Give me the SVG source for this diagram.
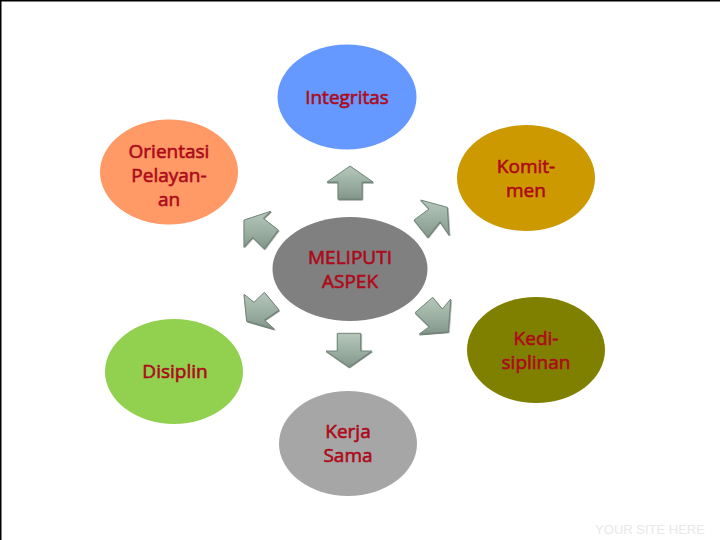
<svg xmlns="http://www.w3.org/2000/svg" width="720" height="540" viewBox="0 0 720 540">
<style>
.t{font-family:"Open Sans","Noto Sans","DejaVu Sans",sans-serif;font-size:19px;fill:#ad0a1a;stroke:#ad0a1a;stroke-width:.6px;text-anchor:middle}
.a{fill:url(#g);stroke:#71867a;stroke-width:1;stroke-linejoin:round;filter:url(#s)}
</style>
<defs>
<linearGradient id="g" x1="0" y1="0" x2="0" y2="1"><stop offset="0" stop-color="#b5c7ba"/><stop offset=".6" stop-color="#98ad9f"/><stop offset="1" stop-color="#82978a"/></linearGradient>
<filter id="s" x="-20%" y="-20%" width="140%" height="140%"><feDropShadow dx="0.5" dy="1" stdDeviation="0.7" flood-color="#4f5f56" flood-opacity=".8"/></filter>
</defs>
<rect width="720" height="540" fill="#fff"/>
<path d="M.75 540V.75H720" fill="none" stroke="#000" stroke-width="1.5"/>
<g id="connectors">
<polygon class="a" points="350,166 373,182 362,182 362,199 338,199 338,182 327,182"/>
<polygon class="a" points="420.7,200 447.3,207.3 449,235 440,221.7 427.7,237.3 414,220 429,209"/>
<polygon class="a" points="270.7,211.3 244,220 244,246.7 252.7,237.3 264.3,248.7 278.3,230 263.3,218.3"/>
<polygon class="a" points="244,294.3 246.7,321 274.3,329 264.3,320 279,310 264.3,292.3 254,302.3"/>
<polygon class="a" points="432.7,297.3 415,312.7 429.3,326.7 419.3,334 448.3,331.7 450.7,299 442.3,309"/>
<polygon class="a" points="337.3,333.3 360.7,333.3 360.7,351 371.7,351 349,367 326,351 337.3,351"/>
</g>
<g id="integritas"><ellipse cx="347" cy="97" rx="69.5" ry="52.5" fill="#6699ff"/><text class="t" x="347" y="104">Integritas</text></g>
<g id="orientasi"><ellipse cx="169" cy="172" rx="69" ry="52.5" fill="#ff9966"/><text class="t" x="169" y="158">Orientasi</text><text class="t" x="169" y="182">Pelayan-</text><text class="t" x="169" y="206">an</text></g>
<g id="komitmen"><ellipse cx="526" cy="178" rx="69" ry="53" fill="#cc9900"/><text class="t" x="526" y="173">Komit-</text><text class="t" x="526" y="197">men</text></g>
<g id="kedisiplinan"><ellipse cx="536" cy="350" rx="69" ry="53" fill="#808000"/><text class="t" x="536" y="345">Kedi-</text><text class="t" x="536" y="369">siplinan</text></g>
<g id="disiplin"><ellipse cx="174" cy="371.5" rx="69" ry="52.5" fill="#92d050"/><text class="t" x="175" y="378">Disiplin</text></g>
<g id="kerja"><ellipse cx="348" cy="443.5" rx="69" ry="52.5" fill="#a6a6a6"/><text class="t" x="348" y="438">Kerja</text><text class="t" x="348" y="462">Sama</text></g>
<g id="meliputi"><ellipse cx="350" cy="269" rx="77.5" ry="52" fill="#808080"/><text class="t" x="350" y="264">MELIPUTI</text><text class="t" x="350" y="288">ASPEK</text></g>
<text x="650" y="534" font-family="'Liberation Sans',Arial,sans-serif" font-size="13" fill="#e8e8e8" text-anchor="middle">YOUR SITE HERE</text>
</svg>
